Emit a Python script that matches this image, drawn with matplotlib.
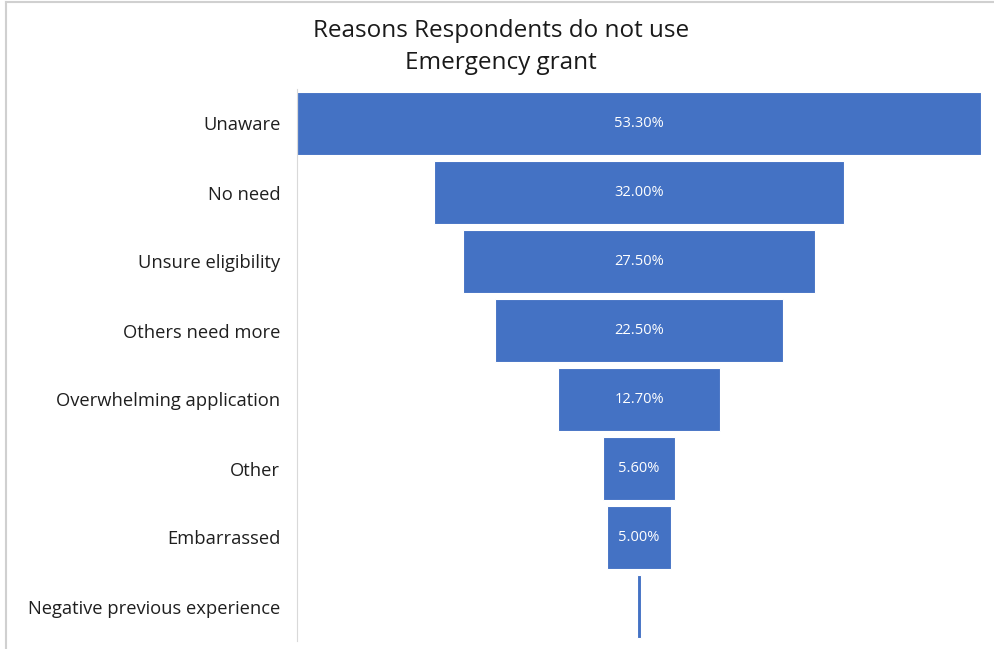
# Funnel chart: reasons respondents do not use the emergency grant

import matplotlib.pyplot as plt
from matplotlib.lines import Line2D

reasons = ['Unaware', 'No need', 'Unsure eligibility', 'Others need more',
           'Overwhelming application', 'Other', 'Embarrassed',
           'Negative previous experience']
shares = [53.3, 32.0, 27.5, 22.5, 12.7, 5.6, 5.0, 0.3]

BAR_COLOUR = '#4472c4'
plt.rcParams['font.family'] = ['Open Sans', 'DejaVu Sans']

fig = plt.figure(figsize=(9.95, 6.49), dpi=100)
ax = fig.add_axes([297 / 995, 1 - 641 / 649, 684 / 995, 552 / 649])

ypos = list(range(len(reasons)))
lefts = [-s / 2 for s in shares]
ax.barh(ypos, shares, left=lefts, height=0.92, color=BAR_COLOUR,
        edgecolor='white', linewidth=0.8)

# Value labels inside bars (the tiny last bar has none)
for y, s in zip(ypos, shares):
    if s > 1:
        ax.text(0, y, f'{s:.2f}%', ha='center', va='center',
                color='white', fontsize=10.5)

ax.set_yticks(ypos)
ax.set_yticklabels(reasons, fontsize=13.2, color='#1f1f1f')
ax.tick_params(axis='y', length=0, pad=12)
ax.set_xticks([])
ax.set_xlim(-shares[0] / 2, shares[0] / 2)
ax.set_ylim(len(reasons) - 0.5, -0.5)
for side in ['top', 'right', 'bottom']:
    ax.spines[side].set_visible(False)
ax.spines['left'].set_color('#d9d9d9')

fig.text(501 / 995, 1 - 47 / 649, 'Reasons Respondents do not use\nEmergency grant',
         ha='center', va='center', fontsize=17.5, color='#1a1a1a',
         linespacing=1.45)

# Screenshot border on the left and top
fig.add_artist(Line2D([6 / 995, 6 / 995], [0, 1 - 2 / 649],
                      color='#d0d0d0', lw=1.5, transform=fig.transFigure))
fig.add_artist(Line2D([6 / 995, 1], [1 - 2 / 649, 1 - 2 / 649],
                      color='#d0d0d0', lw=1.5, transform=fig.transFigure))

plt.savefig('out.png')
